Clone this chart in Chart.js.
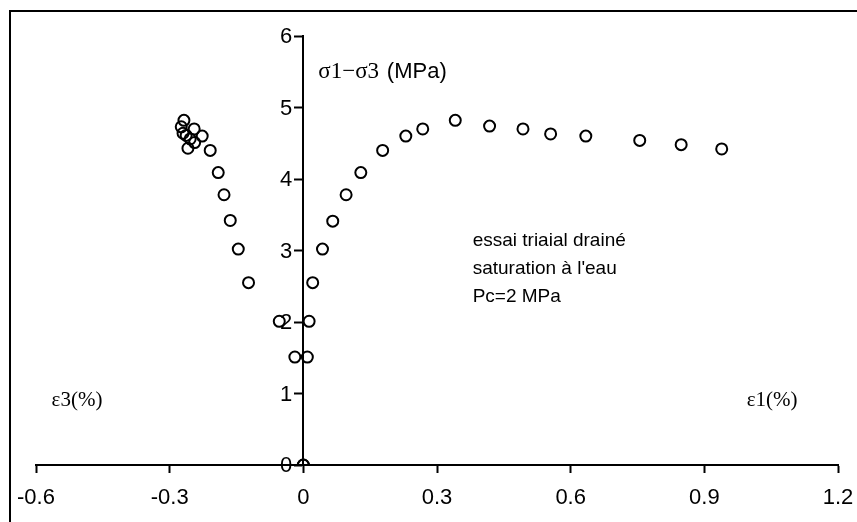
<!DOCTYPE html>
<html>
<head>
<meta charset="utf-8">
<script src="https://cdn.jsdelivr.net/npm/chart.js@4.4.1/dist/chart.umd.min.js"></script>
<style>
html,body{margin:0;padding:0;background:#fff;}
#wrap{width:857px;height:522px;position:relative;}
</style>
</head>
<body>
<div id="wrap"><canvas id="c" width="857" height="522"></canvas></div>
<script>
// ε1 (%) branch : axial strain vs deviator stress
const eps1 = [0, 0.009, 0.013, 0.021, 0.043, 0.066, 0.096, 0.129, 0.178, 0.230, 0.268, 0.341, 0.418, 0.493, 0.555, 0.634, 0.755, 0.848, 0.939];
const dev1 = [0, 1.51, 2.01, 2.55, 3.02, 3.41, 3.78, 4.09, 4.40, 4.60, 4.70, 4.82, 4.74, 4.70, 4.63, 4.60, 4.54, 4.48, 4.42];
// ε3 (%) branch : radial strain vs deviator stress
const eps3 = [0, -0.019, -0.054, -0.123, -0.146, -0.164, -0.178, -0.191, -0.209, -0.227, -0.245, -0.268, -0.274, -0.270, -0.263, -0.254, -0.244, -0.259];
const dev3 = [0, 1.51, 2.01, 2.55, 3.02, 3.42, 3.78, 4.09, 4.40, 4.60, 4.70, 4.82, 4.73, 4.64, 4.61, 4.56, 4.51, 4.43];
const xTicks = [-0.6, -0.3, 0, 0.3, 0.6, 0.9, 1.2];
const yTicks = [0, 1, 2, 3, 4, 5, 6];
const noteLines = ["essai triaial drainé", "saturation à l'eau", "Pc=2 MPa"];

const pts = (xs, ys) => xs.map((x, i) => ({x: x, y: ys[i]}));

const overlay = {
  id: 'overlay',
  afterDraw(chart) {
    const ctx = chart.ctx;
    const sx = chart.scales.x, sy = chart.scales.y;
    ctx.save();
    // chart frame (top-left edges visible)
    ctx.strokeStyle = '#000';
    ctx.lineWidth = 2;
    ctx.beginPath();
    ctx.moveTo(10, 530); ctx.lineTo(10, 11); ctx.lineTo(870, 11);
    ctx.stroke();
    ctx.fillStyle = '#000';
    ctx.textBaseline = 'middle';
    // y tick labels, left of the axis at x = 0
    const ax = sx.getPixelForValue(0);
    ctx.font = '22px "Liberation Sans"';
    ctx.textAlign = 'right';
    yTicks.forEach(v => ctx.fillText(String(v), ax - 11, sy.getPixelForValue(v) + 1));
    // y title
    ctx.textAlign = 'left';
    const yT = sy.getPixelForValue(5.5);
    ctx.font = '23px "Liberation Serif"';
    const part1 = 'σ1−σ3 ';
    ctx.fillText(part1, ax + 15, yT);
    const w1 = ctx.measureText(part1).width;
    ctx.font = '22px "Liberation Sans"';
    ctx.fillText('(MPa)', ax + 17 + w1, yT);
    // ε labels
    const yE = sy.getPixelForValue(0.9);
    ctx.font = '21px "Liberation Serif"';
    ctx.fillText('ε3(%)', sx.getPixelForValue(-0.565), yE);
    ctx.fillText('ε1(%)', sx.getPixelForValue(0.995), yE);
    // note
    ctx.font = '19px "Liberation Sans"';
    const nx = sx.getPixelForValue(0.38);
    const ny = sy.getPixelForValue(3.13);
    noteLines.forEach((t, i) => ctx.fillText(t, nx, ny + i * 28));
    ctx.restore();
  }
};

new Chart(document.getElementById('c'), {
  type: 'scatter',
  data: {
    datasets: [
      {data: pts(eps1, dev1)},
      {data: pts(eps3, dev3)}
    ]
  },
  options: {
    responsive: false,
    animation: false,
    devicePixelRatio: 1,
    layout: {padding: {left: 36, right: 19, top: 36, bottom: 0}},
    elements: {
      point: {pointStyle: 'circle', radius: 5.5, borderWidth: 2, borderColor: '#000', backgroundColor: 'rgba(0,0,0,0)'}
    },
    plugins: {legend: {display: false}, tooltip: {enabled: false}},
    scales: {
      x: {
        type: 'linear', position: 'bottom', min: xTicks[0], max: xTicks[xTicks.length - 1],
        afterBuildTicks: s => { s.ticks = xTicks.map(v => ({value: v})); },
        afterFit: s => { s.height = 57; s.paddingLeft = 0; s.paddingRight = 0; },
        grid: {display: true, drawOnChartArea: false, drawTicks: true, tickLength: 8, tickWidth: 2, color: '#000'},
        border: {display: true, color: '#000', width: 2},
        ticks: {color: '#000', padding: 12, font: {family: 'Liberation Sans', size: 22}, maxRotation: 0, autoSkip: false,
          callback: v => String(+(+v).toFixed(1))}
      },
      y: {
        type: 'linear', position: {x: 0}, min: 0, max: 6,
        afterBuildTicks: s => { s.ticks = yTicks.map(v => ({value: v})); },
        afterFit: s => { s.width = 0; s.paddingTop = 0; s.paddingBottom = 0; },
        grid: {display: true, drawOnChartArea: false, drawTicks: true, tickLength: 8, tickWidth: 2, color: '#000'},
        border: {display: true, color: '#000', width: 2},
        ticks: {display: false}
      }
    }
  },
  plugins: [overlay]
});
</script>
</body>
</html>
